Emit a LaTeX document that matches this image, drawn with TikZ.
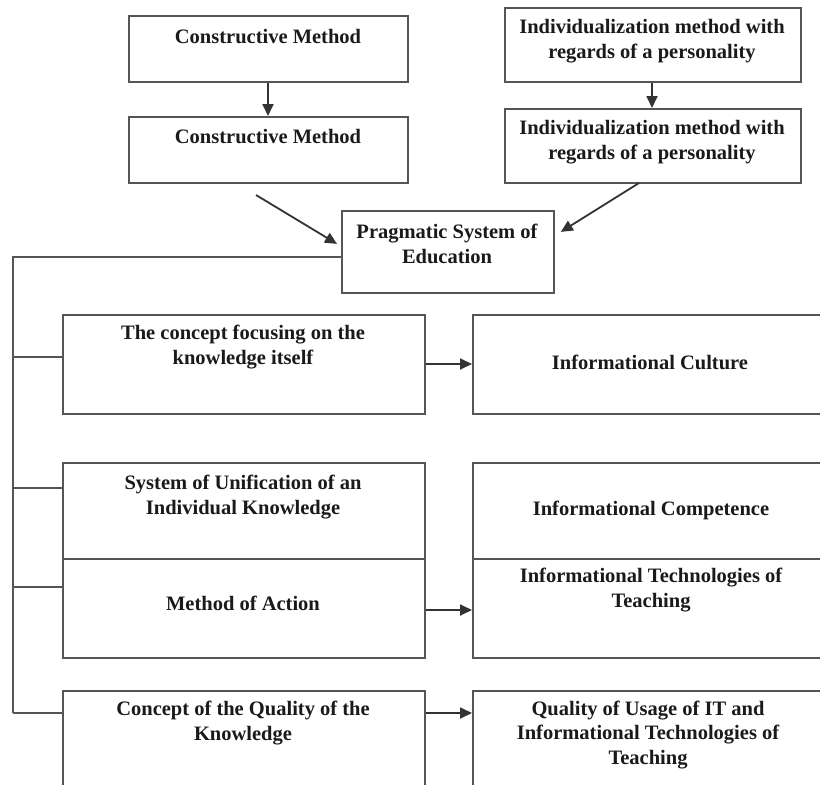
\documentclass[tikz,border=0pt]{standalone}
\usepackage{fontspec}
\setmainfont{Liberation Serif}
\usetikzlibrary{arrows.meta}
\definecolor{linegray}{HTML}{555555}
\definecolor{textdark}{HTML}{1A1A1A}
\begin{document}
\begin{tikzpicture}[x=1pt,y=-1pt,
  box/.style={draw=linegray, line width=1.8pt, rectangle, inner sep=0pt, anchor=north west},
  txt/.style={font=\bfseries\fontsize{20.5}{24.5}\selectfont, text=textdark, align=center, inner sep=0pt},
  conn/.style={draw=linegray, line width=1.8pt},
  arr/.style={draw=black!80, line width=1.8pt, -{Triangle[length=12pt,width=11pt]}, fill=black!80}]
\clip (0,0) rectangle (820,785);
\fill[white] (0,0) rectangle (820,785);
% boxes
\node[box, minimum width=279pt, minimum height=66pt] (A) at (128,15) {};
\node[box, minimum width=279pt, minimum height=66pt] (B) at (128,116) {};
\node[box, minimum width=296pt, minimum height=74pt] (C) at (504,7) {};
\node[box, minimum width=296pt, minimum height=74pt] (D) at (504,108) {};
\node[box, minimum width=212pt, minimum height=82pt] (P) at (341,210) {};
\node[box, minimum width=362pt, minimum height=99pt] (E) at (62,314) {};
\node[box, minimum width=360pt, minimum height=99pt] (F) at (472,314) {};
\node[box, minimum width=362pt, minimum height=96pt] (G) at (62,462) {};
\node[box, minimum width=360pt, minimum height=96pt] (H) at (472,462) {};
\node[box, minimum width=362pt, minimum height=99pt] (M) at (62,558) {};
\node[box, minimum width=360pt, minimum height=99pt] (I) at (472,558) {};
\node[box, minimum width=362pt, minimum height=130pt] (J) at (62,690) {};
\node[box, minimum width=360pt, minimum height=130pt] (K) at (472,690) {};
% texts
\node[txt] (tA) at (268,37) {Constructive Method};
\node[txt] (tB) at (268,137) {Constructive Method};
\node[txt] (tC) at (652,41) {Individualization method with\\regards of a personality};
\node[txt] (tD) at (652,142) {Individualization method with\\regards of a personality};
\node[txt] (tP) at (447,244) {Pragmatic System of\\Education};
\node[txt] (tE) at (243,347) {The concept focusing on the\\knowledge itself};
\node[txt] (tF) at (650,362) {Informational Culture};
\node[txt] (tG) at (243,497) {System of Unification of an\\Individual Knowledge};
\node[txt] (tH) at (651,510) {Informational Competence};
\node[txt] (tM) at (243,603) {Method of Action};
\node[txt] (tI) at (651,590) {Informational Technologies of\\Teaching};
\node[txt] (tJ) at (243,723) {Concept of the Quality of the\\Knowledge};
\node[txt] (tK) at (648,735) {Quality of Usage of IT and\\Informational Technologies of\\Teaching};
% vertical arrows
\draw[arr] (A.south -| tA) -- (B.north -| tA);
\draw[arr] (C.south -| tC) -- (D.north -| tC);
% diagonal arrows
\coordinate (dl) at (256,195);
\coordinate (dr) at (639,183);
\draw[arr] (dl) -- ([xshift=-4pt,yshift=8pt]P.west);
\draw[arr] (dr) -- ([xshift=6pt,yshift=20pt]P.east);
% bus
\coordinate (bus0) at (13,257);
\coordinate (bus1) at (13,357);
\coordinate (bus2) at (13,488);
\coordinate (bus3) at (13,587);
\coordinate (bus4) at (13,713);
\draw[conn] (P.west |- bus0) -- (bus0) -- (bus4);
\draw[conn] (bus1) -- (bus1 -| E.west);
\draw[conn] (bus2) -- (bus2 -| G.west);
\draw[conn] (bus3) -- (bus3 -| M.west);
\draw[conn] (bus4) -- (bus4 -| J.west);
% horizontal arrows
\coordinate (h1) at (424,364);
\coordinate (h2) at (424,610);
\coordinate (h3) at (424,713);
\draw[arr] (E.east |- h1) -- (F.west |- h1);
\draw[arr] (M.east |- h2) -- (I.west |- h2);
\draw[arr] (J.east |- h3) -- (K.west |- h3);
\end{tikzpicture}
\end{document}
